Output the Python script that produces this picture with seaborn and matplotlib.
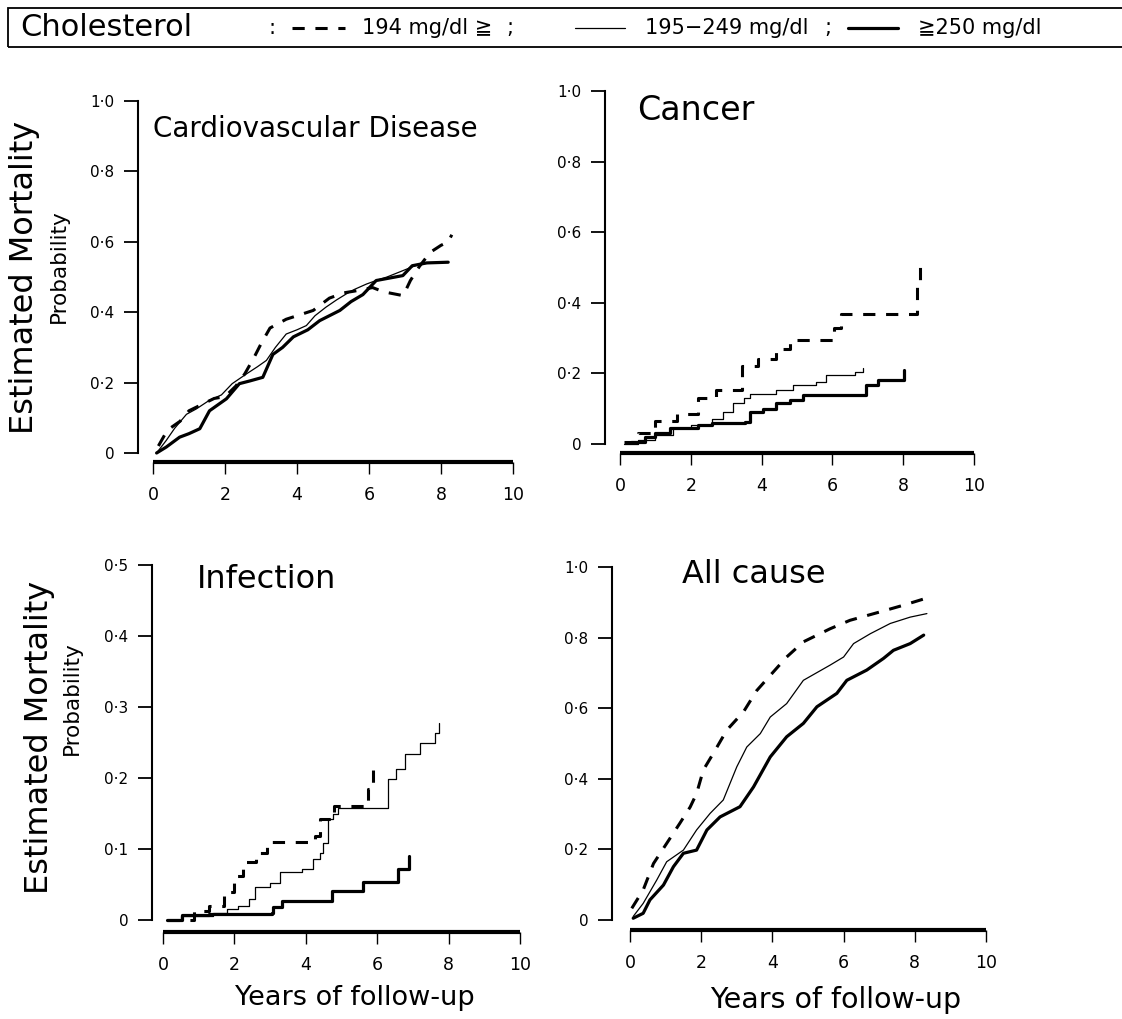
import matplotlib
matplotlib.use("Agg")
import pandas as pd
import seaborn as sns
import matplotlib.pyplot as plt
from matplotlib.lines import Line2D
from matplotlib.patches import Rectangle

sns.set_theme(style="ticks")
plt.rcParams["font.family"] = ["DejaVu Sans", "Noto Sans CJK JP"]
plt.rcParams.update({"text.color": "black", "axes.edgecolor": "black",
                     "xtick.color": "black", "ytick.color": "black",
                     "axes.labelcolor": "black"})

W, H = 1122, 1019

groups = ["194 mg/dl ≧", "195−249 mg/dl", "≧250 mg/dl"]
x_ticks = [0, 2, 4, 6, 8, 10]
x_ticklabels = ["0", "2", "4", "6", "8", "10"]
y_ticks_1 = [0, 0.2, 0.4, 0.6, 0.8, 1.0]
y_ticklabels_1 = ["0", "0·2", "0·4", "0·6", "0·8", "1·0"]
y_ticks_05 = [0, 0.1, 0.2, 0.3, 0.4, 0.5]
y_ticklabels_05 = ["0", "0·1", "0·2", "0·3", "0·4", "0·5"]

# Cardiovascular disease
cvd_low_t = [0.15, 0.4, 0.75, 1.0, 1.3, 1.7, 2.0, 2.3, 2.55, 2.8, 3.0, 3.25, 3.7, 4.0,
             4.45, 4.9, 5.3, 5.6, 6.1, 6.4, 6.95, 7.15, 7.4, 7.7, 8.0, 8.2, 8.3]
cvd_low_p = [0.02, 0.065, 0.09, 0.12, 0.135, 0.155, 0.16, 0.19, 0.225, 0.27, 0.31, 0.355,
             0.38, 0.39, 0.405, 0.44, 0.455, 0.46, 0.47, 0.458, 0.447, 0.49, 0.53, 0.57,
             0.59, 0.60, 0.62]
cvd_mid_t = [0.1, 0.37, 0.6, 0.93, 1.2, 1.57, 1.9, 2.2, 2.6, 2.9, 3.15, 3.4, 3.7, 4.0,
             4.26, 4.5, 4.8, 5.1, 5.37, 5.6, 5.93, 6.2, 6.5, 6.94, 7.4, 7.8, 8.2]
cvd_mid_p = [0.0, 0.036, 0.07, 0.11, 0.125, 0.15, 0.165, 0.197, 0.225, 0.245, 0.263, 0.3,
             0.338, 0.35, 0.362, 0.39, 0.414, 0.435, 0.452, 0.465, 0.48, 0.49, 0.5, 0.518,
             0.537, 0.54, 0.542]
cvd_high_t = [0.1, 0.37, 0.74, 1.0, 1.3, 1.57, 2.04, 2.4, 2.7, 3.05, 3.33, 3.6, 3.9, 4.3,
              4.63, 5.19, 5.5, 5.83, 6.2, 6.94, 7.2, 7.6, 8.2]
cvd_high_p = [0.0, 0.017, 0.045, 0.055, 0.069, 0.12, 0.154, 0.197, 0.205, 0.215, 0.28, 0.30,
              0.33, 0.35, 0.376, 0.405, 0.43, 0.45, 0.49, 0.504, 0.532, 0.54, 0.542]

# Cancer
can_low_t = [0.1, 0.5, 1.0, 1.6, 2.2, 2.7, 3.45, 3.9, 4.4, 4.8, 6.05, 6.25, 8.4, 8.48]
can_low_p = [0.005, 0.03, 0.065, 0.085, 0.13, 0.153, 0.22, 0.24, 0.27, 0.295, 0.33, 0.367,
             0.45, 0.53]
can_mid_t = [0.1, 0.5, 1.0, 1.5, 2.0, 2.6, 2.9, 3.2, 3.5, 3.67, 4.42, 4.9, 5.55, 5.83, 6.63, 6.87]
can_mid_p = [0.0, 0.01, 0.025, 0.045, 0.055, 0.07, 0.09, 0.115, 0.13, 0.143, 0.153, 0.167,
             0.177, 0.196, 0.205, 0.214]
can_high_t = [0.3, 0.7, 1.0, 1.4, 2.2, 2.6, 3.53, 3.67, 4.05, 4.42, 4.8, 5.17, 6.96, 7.3, 8.03]
can_high_p = [0.005, 0.02, 0.03, 0.045, 0.055, 0.06, 0.063, 0.09, 0.1, 0.115, 0.125, 0.138,
              0.167, 0.18, 0.21]

# Infection
inf_low_t = [0.1, 0.86, 1.3, 1.7, 2.0, 2.25, 2.6, 2.9, 4.25, 4.4, 4.8, 5.74, 5.88]
inf_low_p = [0.0, 0.013, 0.02, 0.039, 0.062, 0.081, 0.095, 0.11, 0.119, 0.142, 0.161, 0.184, 0.213]
inf_mid_t = [0.1, 0.5, 1.4, 1.8, 2.1, 2.4, 2.58, 3.0, 3.28, 3.9, 4.2, 4.4, 4.49, 4.63, 4.77,
             4.9, 6.3, 6.54, 6.77, 7.19, 7.63, 7.73]
inf_mid_p = [0.0, 0.005, 0.01, 0.015, 0.02, 0.03, 0.046, 0.052, 0.067, 0.072, 0.086, 0.095,
             0.109, 0.142, 0.149, 0.158, 0.199, 0.213, 0.234, 0.25, 0.264, 0.278]
inf_high_t = [0.1, 0.53, 1.3, 3.04, 3.09, 3.32, 4.72, 5.6, 6.58, 6.89]
inf_high_p = [0.0, 0.007, 0.008, 0.01, 0.018, 0.027, 0.041, 0.054, 0.072, 0.09]

# All cause
all_low_t = [0.05, 0.37, 0.66, 1.03, 1.4, 1.69, 1.87, 2.06, 2.34, 2.72, 3.19, 3.56, 3.94,
             4.4, 4.87, 5.62, 6.18, 7.03, 7.69, 8.43]
all_low_p = [0.033, 0.085, 0.16, 0.217, 0.274, 0.32, 0.358, 0.425, 0.472, 0.538, 0.59, 0.65,
             0.693, 0.745, 0.788, 0.825, 0.849, 0.873, 0.892, 0.915]
all_mid_t = [0.09, 0.37, 0.75, 1.03, 1.5, 1.87, 2.25, 2.62, 2.81, 3.0, 3.28, 3.66, 3.94, 4.4,
             4.87, 5.62, 6.0, 6.28, 6.75, 7.31, 7.87, 8.34]
all_mid_p = [0.01, 0.047, 0.113, 0.165, 0.198, 0.255, 0.302, 0.34, 0.387, 0.434, 0.49, 0.528,
             0.575, 0.613, 0.679, 0.722, 0.745, 0.783, 0.811, 0.84, 0.858, 0.868]
all_high_t = [0.09, 0.37, 0.56, 0.94, 1.22, 1.5, 1.87, 2.16, 2.53, 3.09, 3.47, 3.94, 4.4,
              4.87, 5.25, 5.81, 6.09, 6.65, 7.12, 7.4, 7.87, 8.25]
all_high_p = [0.005, 0.019, 0.057, 0.099, 0.151, 0.189, 0.198, 0.255, 0.292, 0.321, 0.377,
              0.462, 0.519, 0.557, 0.604, 0.642, 0.679, 0.708, 0.741, 0.764, 0.783, 0.807]

line_styles = {
    groups[0]: dict(linestyle=(0, (4, 3.5)), linewidth=2.2),
    groups[1]: dict(linestyle="-", linewidth=0.9),
    groups[2]: dict(linestyle="-", linewidth=2.3),
}


def px_rect(x0, x1, y0, y1):
    # axes box from pixel corners (x=0..10, y=0..top)
    return [x0 / W, 1 - y0 / H, (x1 - x0) / W, (y0 - y1) / H]


def fx(x):
    return x / W


def fy(y):
    return 1 - y / H


def draw_panel(ax, series, ymax, yticks, yticklabels, steps, left_off, bottom_off):
    for name, (t, p) in zip(groups, series):
        d = pd.DataFrame({"year": t, "prob": p})
        sns.lineplot(data=d, x="year", y="prob", ax=ax, color="black", estimator=None,
                     sort=False, drawstyle="steps-post" if steps else "default",
                     clip_on=False, **line_styles[name])
    ax.set_xlim(0, 10)
    ax.set_ylim(0, ymax)
    ax.set_xticks(x_ticks)
    ax.set_xticklabels(x_ticklabels)
    ax.set_yticks(yticks)
    ax.set_yticklabels(yticklabels)
    ax.set_xlabel("")
    ax.set_ylabel("")
    sns.despine(ax=ax)
    ax.spines["left"].set_position(("outward", left_off))
    ax.spines["bottom"].set_position(("outward", bottom_off))
    ax.spines["left"].set_linewidth(1.5)
    ax.spines["bottom"].set_linewidth(3.0)
    ax.spines["bottom"].set_capstyle("butt")
    ax.tick_params(axis="y", direction="out", length=10, width=1.3, pad=7,
                   labelsize=11, color="black", labelcolor="black")
    ax.tick_params(axis="x", direction="out", length=8.5, width=1.0, pad=9,
                   labelsize=12.5, color="black", labelcolor="black")
    ax.set_facecolor("white")


fig = plt.figure(figsize=(W / 100, H / 100), dpi=100, facecolor="white")

ax_cvd = fig.add_axes(px_rect(153, 513, 453, 101))
ax_can = fig.add_axes(px_rect(620, 974, 444, 91))
ax_inf = fig.add_axes(px_rect(163, 520, 920, 565))
ax_all = fig.add_axes(px_rect(630, 986, 920, 567))

draw_panel(ax_cvd, [(cvd_low_t, cvd_low_p), (cvd_mid_t, cvd_mid_p), (cvd_high_t, cvd_high_p)],
           1.0, y_ticks_1, y_ticklabels_1, False, 10.8, 6.5)
draw_panel(ax_can, [(can_low_t, can_low_p), (can_mid_t, can_mid_p), (can_high_t, can_high_p)],
           1.0, y_ticks_1, y_ticklabels_1, True, 10.8, 6.5)
draw_panel(ax_inf, [(inf_low_t, inf_low_p), (inf_mid_t, inf_mid_p), (inf_high_t, inf_high_p)],
           0.5, y_ticks_05, y_ticklabels_05, True, 8.0, 8.6)
draw_panel(ax_all, [(all_low_t, all_low_p), (all_mid_t, all_mid_p), (all_high_t, all_high_p)],
           1.0, y_ticks_1, y_ticklabels_1, False, 13.0, 7.2)

# panel titles
fig.text(fx(153), fy(137), "Cardiovascular Disease", fontsize=20, va="baseline")
fig.text(fx(637), fy(120), "Cancer", fontsize=24, va="baseline")
fig.text(fx(197), fy(588), "Infection", fontsize=23, va="baseline")
fig.text(fx(682), fy(583), "All cause", fontsize=23, va="baseline")

# y labels
for (x1, x2, yc1, yc2) in [(25, 59, 277, 266), (40, 72, 737, 698)]:
    fig.text(fx(x1), fy(yc1), "Estimated Mortality", rotation=90, fontsize=23,
             ha="center", va="center")
    fig.text(fx(x2), fy(yc2), "Probability", rotation=90, fontsize=15.5,
             ha="center", va="center")

# x labels
fig.text(fx(355), fy(1005), "Years of follow-up", fontsize=19.5, ha="center", va="baseline")
fig.text(fx(836), fy(1008), "Years of follow-up", fontsize=20.5, ha="center", va="baseline")

# header legend
fig.add_artist(Rectangle((fx(8), fy(47)), 1.2, 39 / H, transform=fig.transFigure,
                         fill=False, edgecolor="black", linewidth=1.3, clip_on=False))
fig.text(fx(20), fy(28), "Cholesterol", fontsize=22, va="center")
leg_font = ["Liberation Sans Narrow", "DejaVu Sans", "Noto Sans CJK JP"]
for sx, sep in [(272, ":"), (510, ";"), (828, ";")]:
    fig.text(fx(sx), fy(28), sep, fontsize=15, va="center", ha="center", family=leg_font)
samples = [(292, 345, groups[0], 362),
           (575, 625, groups[1], 645),
           (848, 898, groups[2], 918)]
for x0, x1, name, tx in samples:
    fig.add_artist(Line2D([fx(x0), fx(x1)], [fy(28), fy(28)], transform=fig.transFigure,
                          color="black", **line_styles[name]))
    fig.text(fx(tx), fy(28), name, fontsize=15, va="center", family=leg_font)

fig.savefig("out.png", dpi=100, facecolor="white")
